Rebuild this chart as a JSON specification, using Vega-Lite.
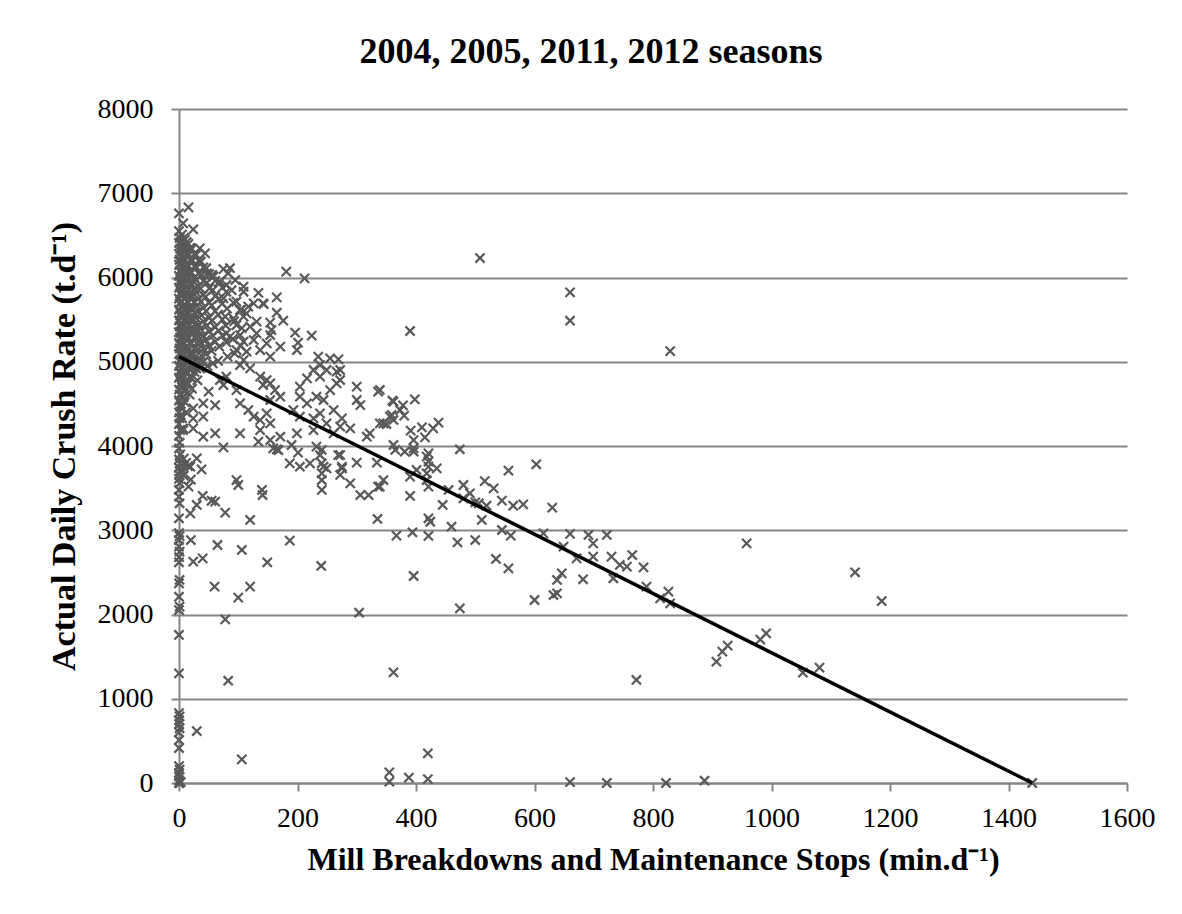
{
"$schema":"https://vega.github.io/schema/vega-lite/v6.json",
"width":948,"height":674,
"autosize":{"type":"none"},
"padding":{"left":179,"top":109,"right":55,"bottom":131},
"background":"white",
"title":{"text":"2004, 2005, 2011, 2012 seasons","font":"Liberation Serif","fontSize":36,"fontWeight":"bold","color":"black","anchor":"middle","dx":-62,"offset":24},
"datasets":{
"fit":[{"stops":0,"crush":5061},{"stops":1440,"crush":0}],
"pts":[
{"stops":0,"crush":6550},{"stops":1,"crush":6470},{"stops":0,"crush":6410},{"stops":2,"crush":6340},{"stops":0,"crush":6280},{"stops":1,"crush":6210},{"stops":0,"crush":6150},{"stops":2,"crush":6080},{"stops":0,"crush":6020},{"stops":1,"crush":5950},{"stops":0,"crush":5880},{"stops":2,"crush":5810},{"stops":0,"crush":5750},{"stops":1,"crush":5690},{"stops":0,"crush":5620},{"stops":2,"crush":5550},{"stops":0,"crush":5490},{"stops":1,"crush":5420},{"stops":0,"crush":5350},{"stops":2,"crush":5290},{"stops":0,"crush":5220},{"stops":1,"crush":5160},{"stops":0,"crush":5090},{"stops":2,"crush":5020},{"stops":0,"crush":4950},{"stops":1,"crush":4880},{"stops":0,"crush":4810},{"stops":2,"crush":4740},{"stops":0,"crush":4670},{"stops":1,"crush":4610},{"stops":0,"crush":4540},{"stops":2,"crush":4470},{"stops":0,"crush":4400},{"stops":1,"crush":4330},{"stops":0,"crush":4260},{"stops":2,"crush":4190},{"stops":0,"crush":4120},{"stops":1,"crush":4040},{"stops":0,"crush":3970},{"stops":2,"crush":3900},{"stops":0,"crush":3840},{"stops":1,"crush":3790},{"stops":0,"crush":3740},{"stops":2,"crush":3700},{"stops":0,"crush":3660},
{"stops":3,"crush":6420},{"stops":3,"crush":6300},{"stops":3,"crush":6170},{"stops":3,"crush":6060},{"stops":3,"crush":5930},{"stops":3,"crush":5820},{"stops":3,"crush":5710},{"stops":3,"crush":5580},{"stops":3,"crush":5450},{"stops":3,"crush":5340},{"stops":3,"crush":5210},{"stops":3,"crush":5100},{"stops":3,"crush":4990},{"stops":3,"crush":4860},{"stops":3,"crush":4740},{"stops":3,"crush":4610},{"stops":3,"crush":4500},{"stops":3,"crush":4370},
{"stops":5,"crush":6510},{"stops":6,"crush":6390},{"stops":4,"crush":6260},{"stops":5,"crush":6140},{"stops":6,"crush":6020},{"stops":4,"crush":5900},{"stops":5,"crush":5780},{"stops":6,"crush":5650},{"stops":4,"crush":5530},{"stops":5,"crush":5420},{"stops":6,"crush":5300},{"stops":4,"crush":5180},{"stops":5,"crush":5060},{"stops":6,"crush":4940},{"stops":4,"crush":4820},{"stops":5,"crush":4700},{"stops":6,"crush":4580},{"stops":4,"crush":4460},{"stops":5,"crush":4330},{"stops":7,"crush":4210},
{"stops":8,"crush":6470},{"stops":8,"crush":6340},{"stops":8,"crush":6230},{"stops":8,"crush":6110},{"stops":8,"crush":5990},{"stops":8,"crush":5860},{"stops":8,"crush":5750},{"stops":8,"crush":5620},{"stops":8,"crush":5490},{"stops":8,"crush":5370},{"stops":8,"crush":5230},{"stops":8,"crush":5100},{"stops":8,"crush":4970},{"stops":8,"crush":4840},{"stops":8,"crush":4710},{"stops":8,"crush":4580},
{"stops":10,"crush":6450},{"stops":11,"crush":6320},{"stops":9,"crush":6200},{"stops":10,"crush":6070},{"stops":11,"crush":5940},{"stops":9,"crush":5810},{"stops":10,"crush":5680},{"stops":11,"crush":5550},{"stops":9,"crush":5420},{"stops":10,"crush":5290},{"stops":11,"crush":5160},{"stops":9,"crush":5030},{"stops":10,"crush":4900},{"stops":11,"crush":4770},{"stops":9,"crush":4650},{"stops":10,"crush":4520},{"stops":12,"crush":4400},
{"stops":13,"crush":6420},{"stops":13,"crush":6280},{"stops":13,"crush":6160},{"stops":13,"crush":6030},{"stops":13,"crush":5890},{"stops":13,"crush":5770},{"stops":13,"crush":5640},{"stops":13,"crush":5500},{"stops":13,"crush":5380},{"stops":13,"crush":5250},{"stops":13,"crush":5110},{"stops":13,"crush":4990},{"stops":13,"crush":4860},{"stops":13,"crush":4730},
{"stops":16,"crush":6400},{"stops":17,"crush":6270},{"stops":15,"crush":6130},{"stops":16,"crush":5990},{"stops":17,"crush":5850},{"stops":15,"crush":5710},{"stops":16,"crush":5570},{"stops":17,"crush":5430},{"stops":15,"crush":5290},{"stops":16,"crush":5150},{"stops":17,"crush":5010},{"stops":15,"crush":4870},{"stops":16,"crush":4740},{"stops":18,"crush":4610},
{"stops":19,"crush":6350},{"stops":19,"crush":6200},{"stops":19,"crush":6070},{"stops":19,"crush":5930},{"stops":19,"crush":5780},{"stops":19,"crush":5650},{"stops":19,"crush":5510},{"stops":19,"crush":5360},{"stops":19,"crush":5230},{"stops":19,"crush":5090},{"stops":19,"crush":4950},{"stops":19,"crush":4820},
{"stops":22,"crush":6340},{"stops":23,"crush":6200},{"stops":21,"crush":6060},{"stops":22,"crush":5920},{"stops":23,"crush":5780},{"stops":21,"crush":5640},{"stops":22,"crush":5500},{"stops":23,"crush":5360},{"stops":21,"crush":5220},{"stops":22,"crush":5080},{"stops":23,"crush":4940},{"stops":21,"crush":4800},{"stops":22,"crush":4680},
{"stops":26,"crush":6280},{"stops":26,"crush":6130},{"stops":26,"crush":6000},{"stops":26,"crush":5860},{"stops":26,"crush":5710},{"stops":26,"crush":5580},{"stops":26,"crush":5440},{"stops":26,"crush":5290},{"stops":26,"crush":5160},{"stops":26,"crush":5020},{"stops":26,"crush":4880},
{"stops":29,"crush":6270},{"stops":30,"crush":6120},{"stops":28,"crush":5970},{"stops":29,"crush":5820},{"stops":30,"crush":5670},{"stops":28,"crush":5520},{"stops":29,"crush":5370},{"stops":30,"crush":5220},{"stops":28,"crush":5070},{"stops":29,"crush":4920},{"stops":31,"crush":4780},
{"stops":33,"crush":6200},{"stops":33,"crush":6050},{"stops":33,"crush":5890},{"stops":33,"crush":5750},{"stops":33,"crush":5600},{"stops":33,"crush":5440},{"stops":33,"crush":5300},{"stops":33,"crush":5150},{"stops":33,"crush":4990},
{"stops":37,"crush":6190},{"stops":38,"crush":6030},{"stops":36,"crush":5870},{"stops":37,"crush":5710},{"stops":38,"crush":5550},{"stops":36,"crush":5390},{"stops":37,"crush":5230},{"stops":38,"crush":5070},{"stops":36,"crush":4920},
{"stops":41,"crush":6120},{"stops":41,"crush":5960},{"stops":41,"crush":5790},{"stops":41,"crush":5640},{"stops":41,"crush":5480},{"stops":41,"crush":5310},{"stops":41,"crush":5160},{"stops":41,"crush":5000},
{"stops":46,"crush":6110},{"stops":47,"crush":5940},{"stops":45,"crush":5770},{"stops":46,"crush":5600},{"stops":47,"crush":5430},{"stops":45,"crush":5260},{"stops":46,"crush":5090},{"stops":48,"crush":4950},
{"stops":51,"crush":6040},{"stops":51,"crush":5870},{"stops":51,"crush":5700},{"stops":51,"crush":5520},{"stops":51,"crush":5360},{"stops":51,"crush":5190},
{"stops":56,"crush":6030},{"stops":57,"crush":5850},{"stops":55,"crush":5670},{"stops":56,"crush":5490},{"stops":57,"crush":5310},{"stops":55,"crush":5130},{"stops":57,"crush":4980},
{"stops":61,"crush":5960},{"stops":61,"crush":5780},{"stops":61,"crush":5600},{"stops":61,"crush":5410},{"stops":61,"crush":5240},
{"stops":67,"crush":5940},{"stops":68,"crush":5750},{"stops":66,"crush":5560},{"stops":67,"crush":5370},{"stops":68,"crush":5180},{"stops":66,"crush":5010},
{"stops":73,"crush":5880},{"stops":73,"crush":5690},{"stops":73,"crush":5500},{"stops":73,"crush":5310},
{"stops":80,"crush":5830},{"stops":81,"crush":5630},{"stops":79,"crush":5430},{"stops":80,"crush":5230},{"stops":82,"crush":5060},
{"stops":92,"crush":5700},{"stops":93,"crush":5480},{"stops":91,"crush":5270},{"stops":94,"crush":5100},
{"stops":105,"crush":5620},{"stops":106,"crush":5400},{"stops":104,"crush":5190},
{"stops":0,"crush":3610},{"stops":1,"crush":3560},{"stops":0,"crush":3478},{"stops":0,"crush":3398},{"stops":1,"crush":3320},{"stops":0,"crush":3142},{"stops":0,"crush":2967},{"stops":1,"crush":2930},{"stops":0,"crush":2884},{"stops":0,"crush":2805},{"stops":1,"crush":2745},{"stops":0,"crush":2680},{"stops":0,"crush":2620},{"stops":1,"crush":2410},{"stops":0,"crush":2370},{"stops":0,"crush":2211},{"stops":1,"crush":2093},{"stops":0,"crush":2053},{"stops":0,"crush":1757},{"stops":0,"crush":1302},{"stops":0,"crush":830},{"stops":1,"crush":790},{"stops":0,"crush":745},{"stops":0,"crush":700},{"stops":1,"crush":650},{"stops":0,"crush":600},{"stops":0,"crush":510},{"stops":0,"crush":415},{"stops":0,"crush":200},{"stops":1,"crush":160},{"stops":0,"crush":120},{"stops":0,"crush":80},{"stops":0,"crush":30},{"stops":1,"crush":0},{"stops":0,"crush":0},{"stops":3,"crush":10},
{"stops":8,"crush":3850},{"stops":12,"crush":3800},{"stops":5,"crush":3720},{"stops":15,"crush":3760},{"stops":8,"crush":3650},
{"stops":16,"crush":6833},{"stops":0,"crush":6762},{"stops":7,"crush":6643},{"stops":24,"crush":6572},{"stops":35,"crush":6346},{"stops":44,"crush":6287},{"stops":75,"crush":6100},{"stops":86,"crush":6110},{"stops":83,"crush":6050},{"stops":181,"crush":6069},{"stops":212,"crush":5990},{"stops":134,"crush":5818},{"stops":165,"crush":5765},{"stops":109,"crush":5831},{"stops":143,"crush":5685},{"stops":165,"crush":5582},{"stops":176,"crush":5487},{"stops":196,"crush":5345},{"stops":224,"crush":5310},{"stops":201,"crush":5226},{"stops":199,"crush":5139},{"stops":154,"crush":5464},{"stops":156,"crush":5377},
{"stops":47,"crush":6049},{"stops":58,"crush":6010},{"stops":69,"crush":5950},{"stops":80,"crush":5911},{"stops":95,"crush":5970},{"stops":109,"crush":5891},{"stops":89,"crush":5851},{"stops":75,"crush":5753},{"stops":97,"crush":5713},{"stops":117,"crush":5654},{"stops":126,"crush":5693},{"stops":142,"crush":5693},{"stops":103,"crush":5614},{"stops":114,"crush":5574},{"stops":78,"crush":5535},{"stops":92,"crush":5515},{"stops":109,"crush":5535},{"stops":131,"crush":5476},{"stops":120,"crush":5416},{"stops":97,"crush":5436},{"stops":80,"crush":5337},{"stops":103,"crush":5317},{"stops":86,"crush":5298},{"stops":131,"crush":5337},{"stops":154,"crush":5317},{"stops":148,"crush":5218},{"stops":109,"crush":5238},{"stops":126,"crush":5258},{"stops":97,"crush":5139},{"stops":114,"crush":5119},{"stops":137,"crush":5139},{"stops":109,"crush":5020},{"stops":154,"crush":5060},{"stops":171,"crush":5179},
{"stops":19,"crush":4902},{"stops":35,"crush":4961},{"stops":103,"crush":4961},{"stops":120,"crush":4922},{"stops":137,"crush":4823},{"stops":148,"crush":4783},{"stops":69,"crush":4783},{"stops":80,"crush":4823},{"stops":75,"crush":4724},{"stops":97,"crush":4664},{"stops":142,"crush":4724},{"stops":154,"crush":4744},{"stops":162,"crush":4664},{"stops":171,"crush":4585},{"stops":154,"crush":4546},{"stops":204,"crush":4704},{"stops":216,"crush":4803},{"stops":227,"crush":4902},{"stops":238,"crush":4823},{"stops":249,"crush":4902},{"stops":204,"crush":4585},{"stops":216,"crush":4506},{"stops":232,"crush":4585},{"stops":244,"crush":4546},{"stops":255,"crush":4664},{"stops":266,"crush":4744},{"stops":272,"crush":4902},
{"stops":24,"crush":4447},{"stops":41,"crush":4506},{"stops":61,"crush":4486},{"stops":50,"crush":4645},{"stops":103,"crush":4506},{"stops":117,"crush":4427},{"stops":126,"crush":4348},{"stops":137,"crush":4308},{"stops":148,"crush":4387},{"stops":154,"crush":4269},{"stops":193,"crush":4427},{"stops":204,"crush":4348},{"stops":227,"crush":4328},{"stops":238,"crush":4387},{"stops":249,"crush":4269},{"stops":261,"crush":4427},{"stops":275,"crush":4328},{"stops":24,"crush":4328},{"stops":41,"crush":4348},
{"stops":7,"crush":4189},{"stops":24,"crush":4209},{"stops":41,"crush":4110},{"stops":61,"crush":4150},{"stops":103,"crush":4150},{"stops":137,"crush":4189},{"stops":154,"crush":4071},{"stops":171,"crush":4110},{"stops":199,"crush":4150},{"stops":227,"crush":4189},{"stops":261,"crush":4150},{"stops":272,"crush":4229},{"stops":289,"crush":4209},{"stops":317,"crush":4110},{"stops":322,"crush":4150},{"stops":345,"crush":4269},{"stops":356,"crush":4348},
{"stops":75,"crush":3984},{"stops":165,"crush":3960},{"stops":190,"crush":4012},{"stops":201,"crush":3921},{"stops":232,"crush":3992},{"stops":238,"crush":3893},{"stops":272,"crush":3893},{"stops":300,"crush":3802},{"stops":334,"crush":3802},{"stops":187,"crush":3794},{"stops":204,"crush":3754},{"stops":221,"crush":3794},{"stops":244,"crush":3754},{"stops":275,"crush":3754},{"stops":362,"crush":4012},
{"stops":235,"crush":5060},{"stops":255,"crush":5040},{"stops":269,"crush":5028},{"stops":238,"crush":4961},{"stops":266,"crush":4882},{"stops":272,"crush":4783},{"stops":300,"crush":4704},{"stops":336,"crush":4645},{"stops":300,"crush":4546},{"stops":306,"crush":4486},{"stops":362,"crush":4526},{"stops":373,"crush":4427},
{"stops":134,"crush":4051},{"stops":159,"crush":3972},{"stops":168,"crush":3952},{"stops":241,"crush":3953},{"stops":241,"crush":3795},{"stops":241,"crush":3676},{"stops":241,"crush":3596},{"stops":241,"crush":3478},{"stops":249,"crush":3735},{"stops":269,"crush":3893},{"stops":275,"crush":3735},{"stops":272,"crush":3656},{"stops":289,"crush":3557},{"stops":306,"crush":3418},{"stops":320,"crush":3418},{"stops":336,"crush":3517},{"stops":335,"crush":3134},
{"stops":304,"crush":2021},{"stops":240,"crush":2576},{"stops":187,"crush":2876},{"stops":149,"crush":2620},{"stops":120,"crush":2330},{"stops":100,"crush":2200},{"stops":78,"crush":1943},{"stops":60,"crush":2330},{"stops":106,"crush":2766},{"stops":65,"crush":2825},{"stops":40,"crush":2667},{"stops":24,"crush":2627},{"stops":20,"crush":2884},{"stops":120,"crush":3122},{"stops":78,"crush":3209},{"stops":61,"crush":3339},{"stops":55,"crush":3350},{"stops":40,"crush":3407},{"stops":30,"crush":3300},{"stops":19,"crush":3201},{"stops":30,"crush":3853},{"stops":38,"crush":3722},{"stops":19,"crush":3754},{"stops":16,"crush":3517},{"stops":20,"crush":3600},{"stops":97,"crush":3596},{"stops":100,"crush":3537},{"stops":140,"crush":3478},{"stops":141,"crush":3418},{"stops":83,"crush":1214},{"stops":30,"crush":617},{"stops":106,"crush":281},
{"stops":396,"crush":3972},{"stops":418,"crush":3873},{"stops":491,"crush":3439},{"stops":506,"crush":3320},
{"stops":390,"crush":5365},{"stops":660,"crush":5824},{"stops":660,"crush":5487},{"stops":829,"crush":5127},{"stops":508,"crush":6231},{"stops":339,"crush":4665},{"stops":360,"crush":4538},{"stops":378,"crush":4483},{"stops":398,"crush":4554},{"stops":359,"crush":4368},{"stops":362,"crush":4309},{"stops":339,"crush":4269},{"stops":350,"crush":4261},{"stops":380,"crush":4360},{"stops":391,"crush":4182},{"stops":410,"crush":4222},{"stops":429,"crush":4210},{"stops":438,"crush":4277},{"stops":396,"crush":4071},{"stops":415,"crush":4103},{"stops":365,"crush":3953},{"stops":381,"crush":3932},{"stops":396,"crush":3932},{"stops":421,"crush":3913},{"stops":421,"crush":3814},{"stops":421,"crush":3755},{"stops":435,"crush":3735},{"stops":418,"crush":3676},{"stops":418,"crush":3596},{"stops":421,"crush":3517},{"stops":401,"crush":3715},{"stops":390,"crush":3636},{"stops":345,"crush":3596},{"stops":339,"crush":3517},{"stops":390,"crush":3407},{"stops":474,"crush":3961},{"stops":556,"crush":3707},{"stops":603,"crush":3783},{"stops":516,"crush":3584},{"stops":531,"crush":3498},{"stops":480,"crush":3537},{"stops":455,"crush":3478},{"stops":545,"crush":3351},{"stops":564,"crush":3291},{"stops":581,"crush":3308},{"stops":519,"crush":3291},{"stops":500,"crush":3331},{"stops":480,"crush":3379},{"stops":630,"crush":3268},{"stops":445,"crush":3300},{"stops":421,"crush":3142},{"stops":424,"crush":3101},{"stops":460,"crush":3042},{"stops":511,"crush":3122},{"stops":367,"crush":2936},{"stops":394,"crush":2976},{"stops":421,"crush":2932},{"stops":470,"crush":2857},{"stops":500,"crush":2884},{"stops":545,"crush":3003},{"stops":560,"crush":2936},{"stops":615,"crush":2963},{"stops":535,"crush":2659},{"stops":556,"crush":2548},{"stops":396,"crush":2457},{"stops":474,"crush":2072},{"stops":600,"crush":2172},{"stops":638,"crush":2410},{"stops":646,"crush":2488},{"stops":638,"crush":2251},{"stops":632,"crush":2231},{"stops":660,"crush":2956},{"stops":691,"crush":2944},{"stops":722,"crush":2944},{"stops":699,"crush":2845},{"stops":649,"crush":2805},{"stops":671,"crush":2667},{"stops":699,"crush":2686},{"stops":682,"crush":2418},{"stops":730,"crush":2686},{"stops":744,"crush":2588},{"stops":756,"crush":2568},{"stops":765,"crush":2706},{"stops":784,"crush":2560},{"stops":733,"crush":2430},{"stops":789,"crush":2330},{"stops":812,"crush":2192},{"stops":826,"crush":2271},{"stops":829,"crush":2133},{"stops":958,"crush":2845},
{"stops":772,"crush":1223},{"stops":1141,"crush":2501},{"stops":1186,"crush":2160},{"stops":907,"crush":1440},{"stops":917,"crush":1559},{"stops":926,"crush":1630},{"stops":981,"crush":1703},{"stops":991,"crush":1776},{"stops":1053,"crush":1309},{"stops":1081,"crush":1369},
{"stops":362,"crush":1314},{"stops":420,"crush":352},{"stops":355,"crush":15},{"stops":355,"crush":127},{"stops":388,"crush":63},{"stops":420,"crush":47},{"stops":660,"crush":10},{"stops":722,"crush":0},{"stops":822,"crush":0},{"stops":887,"crush":27},{"stops":1440,"crush":0}
]},
"layer":[
{"data":{"name":"pts"},
 "mark":{"type":"point","shape":"M-1,-1L1,1M-1,1L1,-1","filled":false,"size":85,"strokeWidth":2.2,"color":"#595959","opacity":1},
 "encoding":{
  "x":{"field":"stops","type":"quantitative","scale":{"domain":[0,1600],"nice":false,"zero":true},
       "axis":{"values":[0,200,400,600,800,1000,1200,1400,1600],"format":"d","grid":false,"title":"Mill Breakdowns and Maintenance Stops (min.d⁻¹)","labelPadding":13,"titlePadding":12,"titleFontSize":32}},
  "y":{"field":"crush","type":"quantitative","scale":{"domain":[0,8000],"nice":false,"zero":true},
       "axis":{"values":[0,1000,2000,3000,4000,5000,6000,7000,8000],"format":"d","grid":true,"title":"Actual Daily Crush Rate (t.d⁻¹)","labelPadding":18,"titlePadding":16,"titleFontSize":34}}
 }},
{"data":{"name":"fit"},
 "mark":{"type":"line","color":"black","strokeWidth":3.5},
 "encoding":{"x":{"field":"stops","type":"quantitative"},"y":{"field":"crush","type":"quantitative"}}}
],
"config":{
 "view":{"stroke":null},
 "axis":{"labelFont":"Liberation Serif","labelFontSize":28,"labelColor":"black","titleFont":"Liberation Serif","titleFontWeight":"bold","titleColor":"black","domainColor":"#868686","domainWidth":2,"tickColor":"#868686","tickWidth":2,"tickSize":8,"gridColor":"#868686","gridWidth":2,"labelFlush":false,"labelOverlap":false}
}
}
